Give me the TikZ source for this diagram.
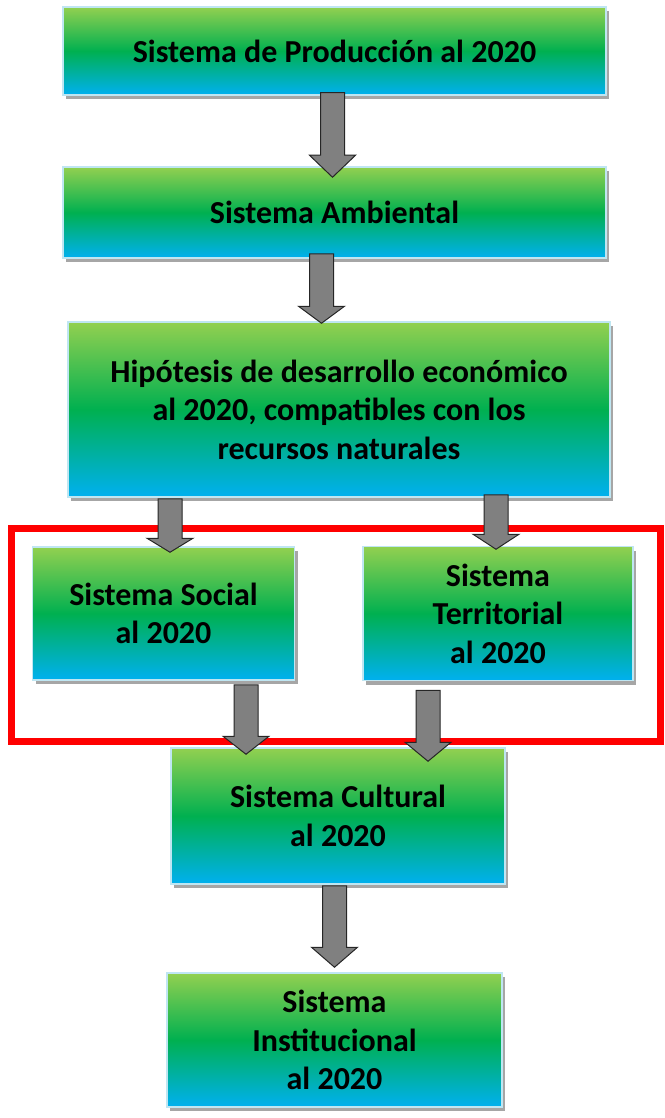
\documentclass[tikz,border=0pt]{standalone}
\usepackage{fontspec}
\setmainfont{Carlito}
\usetikzlibrary{calc,shadows}
\definecolor{lgreen}{HTML}{92D050}
\definecolor{mgreen}{HTML}{00B050}
\definecolor{lblue}{HTML}{00B0F0}
\definecolor{rimblue}{HTML}{BFE6F2}
% block arrow: start, tip, head length (x taken from the tip)
\def\garr#1#2#3{\draw[garrow] let \p1=#1, \p2=#2 in
  (\x2-12pt,\y1) -- (\x2+12pt,\y1) -- (\x2+12pt,\y2+#3) -- (\x2+23pt,\y2+#3)
  -- (\x2,\y2) -- (\x2-23pt,\y2+#3) -- (\x2-12pt,\y2+#3) -- cycle;}
\tikzset{
  sysbox/.style={draw=rimblue, line width=1.5pt, top color=lgreen, bottom color=lblue,
    middle color=mgreen, drop shadow={shadow xshift=3pt, shadow yshift=-4pt, fill=black, opacity=0.35},
    align=center, inner sep=0pt, font=\fontsize{32}{38.5}\selectfont\bfseries},
  garrow/.style={fill=gray, draw=black!85, line width=1pt, line join=miter},
  redframe/.style={draw=red, line width=7pt}
}
\begin{document}
\begin{tikzpicture}[x=1pt,y=-1pt]
\useasboundingbox (0,0) rectangle (664,1118);
\draw[redframe] (11,528.5) rectangle (660,741);
\node[sysbox, minimum width=543pt, minimum height=88pt] (prod) at (334.5,51) {Sistema de Producción al 2020};
\node[sysbox, minimum width=543pt, minimum height=91pt] (amb) at (334.5,212.5) {Sistema Ambiental};
\node[sysbox, minimum width=542pt, minimum height=175pt] (hip) at (339,409.5)
  {Hipótesis de desarrollo económico\\al 2020, compatibles con los\\recursos naturales};
\node[sysbox, minimum width=262pt, minimum height=133pt] (soc) at (163.5,613.5) {Sistema Social\\al 2020};
\node[sysbox, minimum width=270pt, minimum height=134pt] (terr) at (498,613.5) {Sistema\\Territorial\\al 2020};
\node[sysbox, minimum width=334pt, minimum height=136pt] (cult) at (338,816) {Sistema Cultural\\al 2020};
\node[sysbox, minimum width=335pt, minimum height=134pt] (inst) at (334.5,1040) {Sistema\\Institucional\\al 2020};
\garr{([yshift=3pt]prod.south)}{([xshift=-2pt,yshift=-11pt]amb.north)}{22pt}
\garr{([yshift=5pt]amb.south)}{([xshift=-17.5pt,yshift=-2pt]hip.north)}{17pt}
\garr{([yshift=-1pt]hip.south)}{([xshift=6.5pt,yshift=-6pt]soc.north)}{14pt}
\garr{([yshift=3pt]hip.south)}{([xshift=-2pt,yshift=-3.5pt]terr.north)}{15pt}
\garr{([yshift=-4pt]soc.south)}{([xshift=-92pt,yshift=-7pt]cult.north)}{18pt}
\garr{([yshift=-9pt]terr.south)}{([xshift=90pt,yshift=-14pt]cult.north)}{19pt}
\garr{([yshift=-1pt]cult.south)}{([yshift=5pt]inst.north)}{20pt}
\end{tikzpicture}
\end{document}
